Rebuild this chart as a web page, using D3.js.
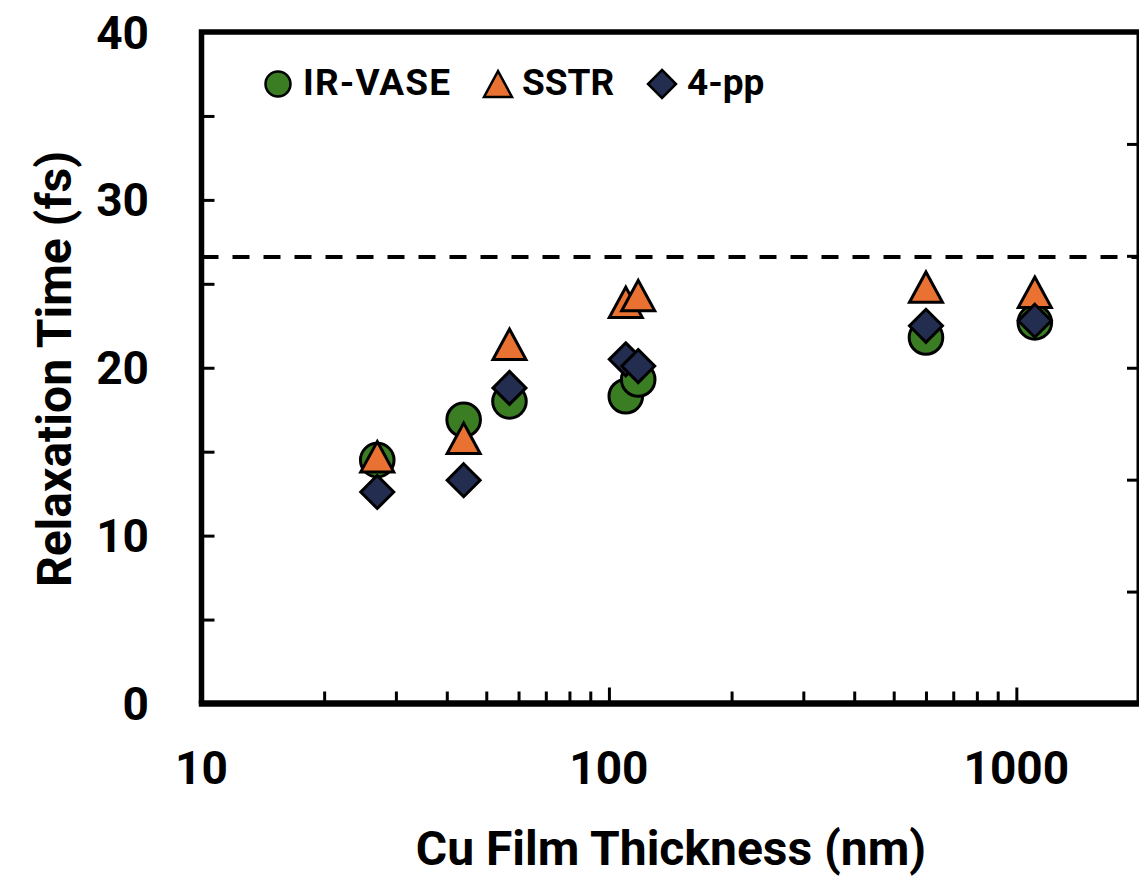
<!DOCTYPE html>
<html>
<head>
<meta charset="utf-8">
<script src="https://cdn.jsdelivr.net/npm/d3@7"></script>
<style>
  html, body { margin: 0; padding: 0; background: #fff; }
  svg { display: block; }
  text { font-family: Roboto, "Liberation Sans", Arial, sans-serif; font-weight: 700; fill: #000; }
</style>
</head>
<body>
<svg id="chart" width="1139" height="876"></svg>
<script>
// Film thickness (nm) of each sample
const thickness = [27, 44, 57, 110, 118, 600, 1110];
// Relaxation time (fs) from each technique
const irvase = [14.5, 16.9, 18.0, 18.3, 19.3, 21.8, 22.7];
const sstr   = [14.7, 15.8, 21.4, 23.9, 24.3, 24.8, 24.5];
const fourPP = [12.6, 13.3, 18.8, 20.5, 20.1, 22.5, 22.8];
// Bulk Cu reference level (fs)
const bulkTau = 26.6;

const yTicks = [0, 10, 20, 30, 40];
const yMinorTicks = [5, 15, 25, 35];
const xTicks = [10, 100, 1000];
const xMinorTicks = [20, 30, 40, 50, 60, 70, 80, 90, 200, 300, 400, 500, 600, 700, 800, 900];

const series = [
  { name: "IR-VASE", values: irvase, shape: "circle",   color: "#3a7d22" },
  { name: "SSTR",    values: sstr,   shape: "triangle", color: "#e97132" },
  { name: "4-pp",    values: fourPP, shape: "diamond",  color: "#232d50" }
];

const svg = d3.select("#chart");
const plotL = 201.5, plotR = 1139, plotT = 32, plotB = 703.5;

const x = d3.scaleLog().domain([10, 2000]).range([plotL, plotR]);
const y = d3.scaleLinear().domain([0, 40]).range([plotB, plotT]);

// marker outlines, centred on the data point
function shapePath(shape, s) {
  if (shape === "triangle") {
    const h = s * 0.92, w = s;
    return `M0,${-h}L${w},${h}L${-w},${h}Z`;
  }
  if (shape === "diamond") {
    return `M0,${-s}L${s},0L0,${s}L${-s},0Z`;
  }
  return null;
}
function drawMarker(g, shape, color, size, sw) {
  if (shape === "circle") {
    g.append("circle").attr("r", size).attr("fill", color)
      .attr("stroke", "#000").attr("stroke-width", sw);
  } else {
    g.append("path").attr("d", shapePath(shape, size)).attr("fill", color)
      .attr("stroke", "#000").attr("stroke-width", sw).attr("stroke-linejoin", "miter");
  }
}

// dashed bulk reference line
svg.append("line")
  .attr("x1", plotL).attr("x2", plotR)
  .attr("y1", y(bulkTau)).attr("y2", y(bulkTau))
  .attr("stroke", "#000").attr("stroke-width", 4)
  .attr("stroke-dasharray", "17,14");

// data markers
const sizes = { circle: 16.8, triangle: 16.5, diamond: 16.5 };
series.forEach(s => {
  s.values.forEach((v, i) => {
    const g = svg.append("g").attr("transform", `translate(${x(thickness[i])},${y(v)})`);
    drawMarker(g, s.shape, s.color, sizes[s.shape], 3);
  });
});

// left axis with inward ticks
const yAxis = d3.axisLeft(y).tickValues(yTicks.concat(yMinorTicks).sort((a, b) => a - b))
  .tickSize(-13).tickFormat("");
const gy = svg.append("g").attr("transform", `translate(${plotL},0)`).call(yAxis);
gy.select(".domain").remove();
gy.selectAll(".tick line").attr("stroke", "#000").attr("stroke-width", 3);

svg.selectAll(".ylab").data(yTicks).join("text")
  .attr("class", "ylab")
  .attr("x", 149).attr("y", d => y(d)).attr("dy", "0.36em")
  .attr("text-anchor", "end").attr("font-size", 46)
  .text(d => d);

// bottom axis with inward ticks
const xAxisMinor = d3.axisBottom(x).tickValues(xMinorTicks).tickSize(-12).tickFormat("");
const gxm = svg.append("g").attr("transform", `translate(0,${plotB})`).call(xAxisMinor);
gxm.select(".domain").remove();
gxm.selectAll(".tick line").attr("stroke", "#000").attr("stroke-width", 3);

const xAxisMajor = d3.axisBottom(x).tickValues(xTicks.filter(d => d > 10)).tickSize(-16).tickFormat("");
const gxM = svg.append("g").attr("transform", `translate(0,${plotB})`).call(xAxisMajor);
gxM.select(".domain").remove();
gxM.selectAll(".tick line").attr("stroke", "#000").attr("stroke-width", 3);

svg.selectAll(".xlab").data(xTicks).join("text")
  .attr("class", "xlab")
  .attr("x", d => x(d)).attr("y", 784)
  .attr("text-anchor", "middle").attr("font-size", 46)
  .text(d => d);

// right side secondary ticks
const yRight = d3.scaleLinear().domain([0, 6]).range([plotB, plotT]);
const gr = svg.append("g").attr("transform", `translate(${plotR - 2},0)`)
  .call(d3.axisRight(yRight).tickValues([1, 2, 3, 4, 5]).tickSize(-10).tickFormat(""));
gr.select(".domain").remove();
gr.selectAll(".tick line").attr("stroke", "#000").attr("stroke-width", 3);

// frame
svg.append("path")
  .attr("d", `M${plotL},${plotB}L${plotL},${plotT}L${plotR},${plotT}`)
  .attr("fill", "none").attr("stroke", "#000").attr("stroke-width", 5.5)
  .attr("stroke-linejoin", "miter");
svg.append("line").attr("x1", plotR).attr("x2", plotR).attr("y1", plotT).attr("y2", plotB)
  .attr("stroke", "#000").attr("stroke-width", 5);
svg.append("line").attr("x1", plotL - 2.75).attr("x2", plotR).attr("y1", plotB).attr("y2", plotB)
  .attr("stroke", "#000").attr("stroke-width", 6.5);

// axis titles
svg.append("text")
  .attr("x", 671).attr("y", 865)
  .attr("text-anchor", "middle").attr("font-size", 48)
  .text("Cu Film Thickness (nm)");
svg.append("text")
  .attr("transform", "translate(71,369) rotate(-90)")
  .attr("text-anchor", "middle").attr("font-size", 48)
  .text("Relaxation Time (fs)");

// legend
const legendPos = [
  { sx: 278, tx: 303, ls: 1.1 },
  { sx: 498, tx: 522, ls: 0 },
  { sx: 662, tx: 687, ls: 0 }
];
const legendSizes = { circle: 12.5, triangle: 14, diamond: 14 };
series.forEach((s, i) => {
  const g = svg.append("g").attr("transform", `translate(${legendPos[i].sx},84)`);
  drawMarker(g, s.shape, s.color, legendSizes[s.shape], 2.5);
  svg.append("text").attr("x", legendPos[i].tx).attr("y", 95)
    .attr("font-size", 37).attr("letter-spacing", legendPos[i].ls).text(s.name);
});
</script>
</body>
</html>
